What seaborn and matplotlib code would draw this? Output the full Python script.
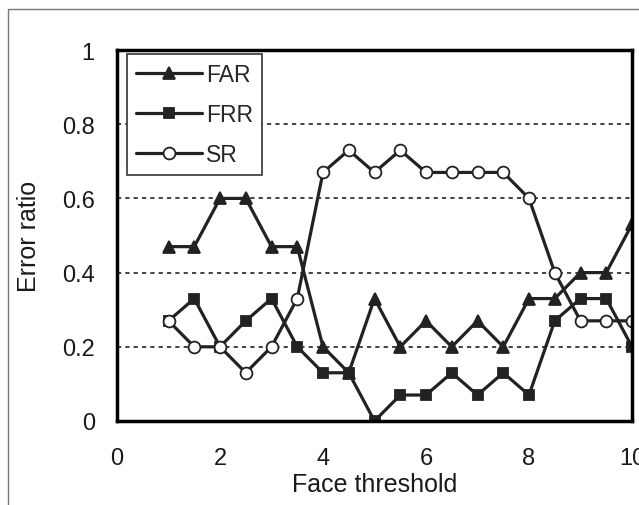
import numpy as np
import pandas as pd
import matplotlib
matplotlib.use("Agg")
import matplotlib.pyplot as plt
from matplotlib.patches import Rectangle
import seaborn as sns

# Values
thresholds = [1, 1.5, 2, 2.5, 3, 3.5, 4, 4.5, 5, 5.5, 6, 6.5, 7, 7.5, 8, 8.5, 9, 9.5, 10]
far = [0.47, 0.47, 0.6, 0.6, 0.47, 0.47, 0.2, 0.13, 0.33, 0.2, 0.27, 0.2, 0.27, 0.2,
       0.33, 0.33, 0.4, 0.4, 0.53]
frr = [0.27, 0.33, 0.2, 0.27, 0.33, 0.2, 0.13, 0.13, 0.0, 0.07, 0.07, 0.13, 0.07, 0.13,
       0.07, 0.27, 0.33, 0.33, 0.2]
sr = [0.27, 0.2, 0.2, 0.13, 0.2, 0.33, 0.67, 0.73, 0.67, 0.73, 0.67, 0.67, 0.67, 0.67,
      0.6, 0.4, 0.27, 0.27, 0.27]
series_names = ["FAR", "FRR", "SR"]
x_ticks = [0, 2, 4, 6, 8, 10]
y_ticks = [0, 0.2, 0.4, 0.6, 0.8, 1]
y_tick_labels = ["0", "0.2", "0.4", "0.6", "0.8", "1"]

sns.set_style("white")
plt.rcParams['font.family'] = ['Liberation Sans', 'DejaVu Sans']

ink = "#222222"
text_col = "#1a1a1a"
fig = plt.figure(figsize=(6.39, 5.06), dpi=100)
ax = fig.add_axes([117 / 639, 1 - 422 / 506, 515 / 639, 371 / 506])

# thin frame around the whole picture (cut off at right and bottom)
fig.patches.append(Rectangle((8 / 639, -0.05), 1.1, 1 - 10 / 506 + 0.05,
                             transform=fig.transFigure, fill=False,
                             edgecolor="#777777", linewidth=1.0, zorder=0))

styles = {
    "FAR": dict(marker="^", markersize=8.5, markerfacecolor=ink),
    "FRR": dict(marker="s", markersize=7, markerfacecolor=ink),
    "SR": dict(marker="o", markersize=8.5, markerfacecolor="white"),
}
for name, values in zip(series_names, [far, frr, sr]):
    sns.lineplot(x=thresholds, y=values, ax=ax, color=ink, linewidth=2.3,
                 markeredgecolor=ink, markeredgewidth=1.3, label=name,
                 **styles[name])

ax.set_xlim(0, 10)
ax.set_ylim(0, 1)
ax.set_xticks(x_ticks)
ax.set_yticks(y_ticks)
ax.set_yticklabels(y_tick_labels)

for y in y_ticks[1:-1]:
    ax.axhline(y, color=ink, linestyle=(0, (2.5, 2.5)), linewidth=1.2, zorder=0)

for side in ["left", "bottom", "top", "right"]:
    ax.spines[side].set_visible(True)
    ax.spines[side].set_color("black")
    ax.spines[side].set_linewidth(2.5)

ax.tick_params(axis="both", direction="out", length=7, width=1.2, colors="black",
               labelsize=17, labelcolor=text_col)
ax.tick_params(axis="x", pad=12)
ax.tick_params(axis="y", pad=9)
ax.set_xlabel("Face threshold", fontsize=18, color=text_col, labelpad=2)
ax.set_ylabel("Error ratio", fontsize=18, color=text_col, labelpad=15)

leg = ax.legend(loc="upper left", bbox_to_anchor=(0.019, 0.99), fontsize=16.5,
                frameon=True, fancybox=False, framealpha=1, edgecolor="#333333",
                handlelength=2.9, handletextpad=0.15, labelspacing=0.75,
                borderpad=0.4, borderaxespad=0)
leg.get_frame().set_linewidth(1.2)

plt.savefig("out.png", dpi=100)
plt.close()
